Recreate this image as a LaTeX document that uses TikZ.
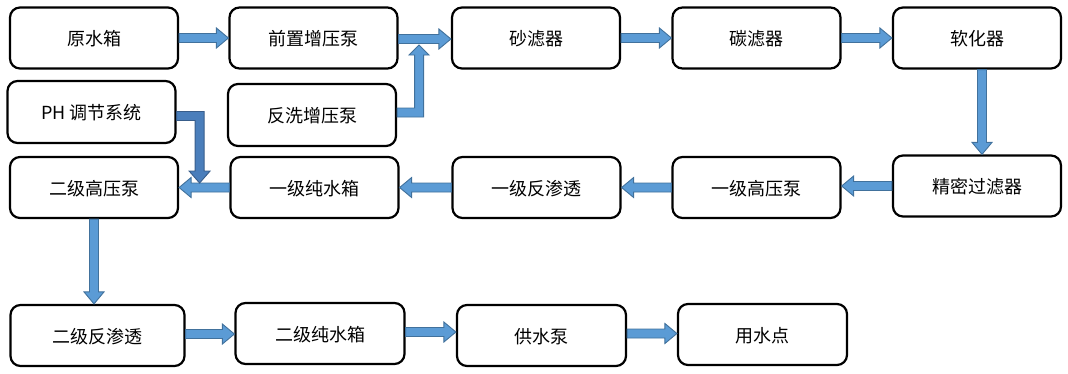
\documentclass[tikz,border=0pt]{standalone}
\usepackage{fontspec}
\setmainfont{Noto Sans CJK SC}
\usetikzlibrary{calc}
\definecolor{arrfill}{HTML}{5B9BD5}
\definecolor{arrline}{HTML}{41719C}
\definecolor{arrfillB}{HTML}{4A7EBB}
\definecolor{arrlineB}{HTML}{385D8A}
\tikzset{
  box/.style={draw=black, line width=2.2pt, rounded corners=10pt, fill=white,
    minimum width=168pt, minimum height=61pt, inner sep=0pt,
    font=\fontsize{18}{20}\selectfont, text depth=0pt},
  blockarrow/.style={fill=arrfill, draw=arrline, line width=0.9pt},
  blockarrowB/.style={fill=arrfillB, draw=arrlineB, line width=0.9pt},
  barrow/.style={to path={
    ($(\tikztostart)!4.5pt!90:(\tikztotarget)$)
    -- ($(\tikztotarget)!12pt!(\tikztostart)!4.5pt!-90:(\tikztostart)$)
    -- ($(\tikztotarget)!12pt!(\tikztostart)!10pt!-90:(\tikztostart)$)
    -- (\tikztotarget)
    -- ($(\tikztotarget)!12pt!(\tikztostart)!10pt!90:(\tikztostart)$)
    -- ($(\tikztotarget)!12pt!(\tikztostart)!4.5pt!90:(\tikztostart)$)
    -- ($(\tikztostart)!4.5pt!-90:(\tikztotarget)$) -- cycle}}
}
\begin{document}
\begin{tikzpicture}[x=1pt, y=-1pt]
\useasboundingbox (0,0) rectangle (1068,373);
% row 1
\node[box] (yuan) at (94,38) {原水箱};
\node[box] (qian) at (313.5,38) {前置增压泵};
\node[box] (sha) at (536,38) {砂滤器};
\node[box] (tan) at (756.5,38) {碳滤器};
\node[box] (ruan) at (977,38) {软化器};
% row 2
\node[box, minimum height=62pt] (ph) at (91.5,112) {PH 调节系统};
\node[box, minimum height=62pt] (fx) at (312,115) {反洗增压泵};
% row 3
\node[box] (gy2) at (94,187.5) {二级高压泵};
\node[box] (cs1) at (314.5,187.5) {一级纯水箱};
\node[box] (fs1) at (536.5,187.5) {一级反渗透};
\node[box] (gy1) at (756.5,187.5) {一级高压泵};
\node[box] (jm) at (977,186) {精密过滤器};
% row 4
\node[box, minimum width=174pt] (fs2) at (97.5,335.5) {二级反渗透};
\node[box, minimum width=169pt] (cs2) at (320,333.5) {二级纯水箱};
\node[box, minimum width=169pt] (gs) at (541.5,335.5) {供水泵};
\node[box, minimum width=169pt] (yd) at (762.5,334.5) {用水点};
% straight block arrows
\draw[blockarrow, barrow] (yuan.east) to (yuan.east -| qian.west);
\draw[blockarrow, barrow] ([yshift=-1pt]qian.east) to ([yshift=-1pt]qian.east -| sha.west);
\draw[blockarrow, barrow] (sha.east) to (sha.east -| tan.west);
\draw[blockarrow, barrow] (tan.east) to (tan.east -| ruan.west);
\draw[blockarrow, barrow] ([xshift=5pt]ruan.south) to ([xshift=5pt]ruan.south |- jm.north);
\draw[blockarrow, barrow] (jm.west) to (jm.west -| gy1.east);
\draw[blockarrow, barrow] (gy1.west) to (gy1.west -| fs1.east);
\draw[blockarrow, barrow] (fs1.west) to (fs1.west -| cs1.east);
\draw[blockarrow, barrow] (cs1.west) to (cs1.west -| gy2.east);
\draw[blockarrow, barrow] (gy2.south) to (gy2.south |- fs2.north);
\draw[blockarrow, barrow] ([yshift=1.5pt]fs2.east) to ([yshift=1.5pt]fs2.east -| cs2.west);
\draw[blockarrow, barrow] ([yshift=1.5pt]cs2.east) to ([yshift=1.5pt]cs2.east -| gs.west);
\draw[blockarrow, barrow] ([yshift=2pt]gs.east) to ([yshift=2pt]gs.east -| yd.west);
% elbow arrows
\draw[blockarrow] ($(fx.east)+(0,2)$) -- ++(26.5,0) -- ++(0,-62) -- ++(5.5,0)
  -- ++(-10,-10) -- ++(-10,10) -- ++(5.5,0) -- ++(0,53) -- ++(-17.5,0) -- cycle;
\draw[blockarrowB] ($(ph.east)+(0,-0.5)$) -- ++(27.5,0) -- ++(0,59.5) -- ++(6,0)
  -- ++(-10.5,12) -- ++(-10.5,-12) -- ++(6,0) -- ++(0,-50.5) -- ++(-18.5,0) -- cycle;
\end{tikzpicture}
\end{document}
